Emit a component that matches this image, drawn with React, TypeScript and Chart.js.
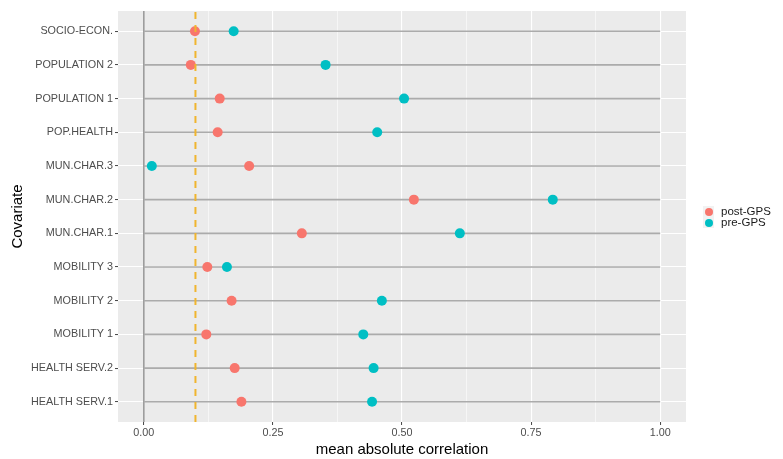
import React, { useEffect, useRef } from "react";
import { Chart, registerables } from "chart.js";

Chart.register(...registerables);

// Categories listed bottom-to-top (y = 1 .. 12)
const categories = [
  "HEALTH SERV.1",
  "HEALTH SERV.2",
  "MOBILITY 1",
  "MOBILITY 2",
  "MOBILITY 3",
  "MUN.CHAR.1",
  "MUN.CHAR.2",
  "MUN.CHAR.3",
  "POP.HEALTH",
  "POPULATION 1",
  "POPULATION 2",
  "SOCIO-ECON.",
];

const postGPS = [0.189, 0.176, 0.121, 0.17, 0.123, 0.306, 0.523, 0.204, 0.143, 0.147, 0.091, 0.099];
const preGPS = [0.442, 0.445, 0.425, 0.461, 0.161, 0.612, 0.792, 0.0155, 0.452, 0.504, 0.352, 0.174];

const seriesNames = ["post-GPS", "pre-GPS"];
const seriesColors = ["#F8766D", "#00BFC4"];

const threshold = 0.1;
const xMajorTicks = [0, 0.25, 0.5, 0.75, 1];
const xMinorTicks = [0.125, 0.375, 0.625, 0.875];

const FONT = "'Liberation Sans', Arial, 'DejaVu Sans', sans-serif";

export default function App() {
  const canvasRef = useRef<HTMLCanvasElement | null>(null);

  useEffect(() => {
    const canvas = canvasRef.current;
    if (!canvas) return;
    const yMin = 0.4;
    const yMax = categories.length + 0.6;

    const segData: any[] = [];
    categories.forEach((_, i) => {
      segData.push({ x: 0, y: i + 1 });
      segData.push({ x: 1, y: i + 1 });
      segData.push({ x: NaN, y: NaN });
    });

    const isMajor = (v: number) => xMajorTicks.some((m) => Math.abs(m - v) < 1e-9);

    const chart = new Chart(canvas, {
      type: "scatter",
      data: {
        datasets: [
          {
            label: "segments",
            data: segData,
            showLine: true,
            borderColor: "#ABABAB",
            borderWidth: 1.6,
            pointRadius: 0,
            order: 5,
          } as any,
          {
            label: "zero",
            data: [
              { x: 0, y: yMin },
              { x: 0, y: yMax },
            ],
            showLine: true,
            borderColor: "#9C9C9C",
            borderWidth: 1.6,
            pointRadius: 0,
            order: 5,
          } as any,
          {
            label: seriesNames[1],
            data: preGPS.map((v, i) => ({ x: v, y: i + 1 })),
            backgroundColor: seriesColors[1],
            borderWidth: 0,
            pointRadius: 5,
            order: 3,
          } as any,
          {
            label: seriesNames[0],
            data: postGPS.map((v, i) => ({ x: v, y: i + 1 })),
            backgroundColor: seriesColors[0],
            borderWidth: 0,
            pointRadius: 5,
            order: 2,
          } as any,
          {
            label: "threshold",
            data: [
              { x: threshold, y: yMin },
              { x: threshold, y: yMax },
            ],
            showLine: true,
            borderColor: "#F0B52E",
            borderWidth: 2,
            borderDash: [7, 6],
            pointRadius: 0,
            order: 1,
          } as any,
        ],
      },
      options: {
        responsive: false,
        animation: false,
        devicePixelRatio: 1,
        layout: { padding: { top: 11, right: 97, left: 0, bottom: 0 } },
        plugins: {
          legend: { display: false },
          tooltip: { enabled: false },
        },
        scales: {
          x: {
            type: "linear",
            min: -0.05,
            max: 1.05,
            afterBuildTicks: (s: any) => {
              s.ticks = [...xMajorTicks, ...xMinorTicks]
                .sort((a, b) => a - b)
                .map((v) => ({ value: v }));
            },
            afterFit: (s: any) => {
              s.height = 37;
            },
            border: { display: false },
            grid: {
              color: "#FFFFFF",
              lineWidth: (ctx: any) => (ctx.tick && isMajor(ctx.tick.value) ? 1.1 : 0.55),
              tickLength: 3,
              tickWidth: 1,
              tickColor: (ctx: any) => (ctx.tick && isMajor(ctx.tick.value) ? "#444444" : "rgba(0,0,0,0)"),
            },
            ticks: {
              autoSkip: false,
              maxRotation: 0,
              padding: 2,
              color: "#4D4D4D",
              font: { family: FONT, size: 10.8 },
              callback: (v: any) => (isMajor(Number(v)) ? Number(v).toFixed(2) : ""),
            },
            title: {
              display: true,
              text: "mean absolute correlation",
              color: "#000000",
              font: { family: FONT, size: 15 },
              padding: { top: 4, bottom: 0 },
            },
          } as any,
          y: {
            type: "linear",
            min: yMin,
            max: yMax,
            afterBuildTicks: (s: any) => {
              s.ticks = categories.map((_, i) => ({ value: i + 1 }));
            },
            afterFit: (s: any) => {
              s.width = 118;
            },
            border: { display: false },
            grid: {
              color: "#FFFFFF",
              lineWidth: 1.1,
              tickLength: 3,
              tickWidth: 1,
              tickColor: "#444444",
            },
            ticks: {
              autoSkip: false,
              padding: 2,
              color: "#4D4D4D",
              font: { family: FONT, size: 10.8 },
              callback: (v: any) => categories[Math.round(Number(v)) - 1] ?? "",
            },
            title: {
              display: true,
              text: "Covariate",
              color: "#000000",
              font: { family: FONT, size: 15 },
              padding: { top: 9, bottom: 0 },
            },
          } as any,
        },
      },
      plugins: [
        {
          id: "panelBg",
          beforeDraw: (c: any) => {
            const { ctx, chartArea } = c;
            ctx.save();
            ctx.fillStyle = "#EBEBEB";
            ctx.fillRect(chartArea.left, chartArea.top, chartArea.right - chartArea.left, chartArea.bottom - chartArea.top);
            ctx.restore();
          },
        },
      ],
    } as any);

    return () => chart.destroy();
  }, []);

  const legendItem = (i: number, top: number) => (
    <div key={i} style={{ position: "absolute", left: 703, top, height: 11, display: "flex", alignItems: "center" }}>
      <div
        style={{
          width: 11,
          height: 11,
          background: "#F2F2F2",
          display: "flex",
          alignItems: "center",
          justifyContent: "center",
        }}
      >
        <div style={{ width: 8, height: 8, borderRadius: "50%", background: seriesColors[i] }} />
      </div>
      <span
        style={{
          marginLeft: 7,
          fontFamily: FONT,
          fontSize: 11.5,
          color: "#1A1A1A",
          lineHeight: "11px",
          whiteSpace: "nowrap",
        }}
      >
        {seriesNames[i]}
      </span>
    </div>
  );

  return (
    <div style={{ position: "fixed", left: 0, top: 0, width: 783, height: 459, background: "#FFFFFF" }}>
      <canvas ref={canvasRef} width={783} height={459} style={{ position: "absolute", left: 0, top: 0 }} />
      {legendItem(0, 206)}
      {legendItem(1, 217)}
    </div>
  );
}
